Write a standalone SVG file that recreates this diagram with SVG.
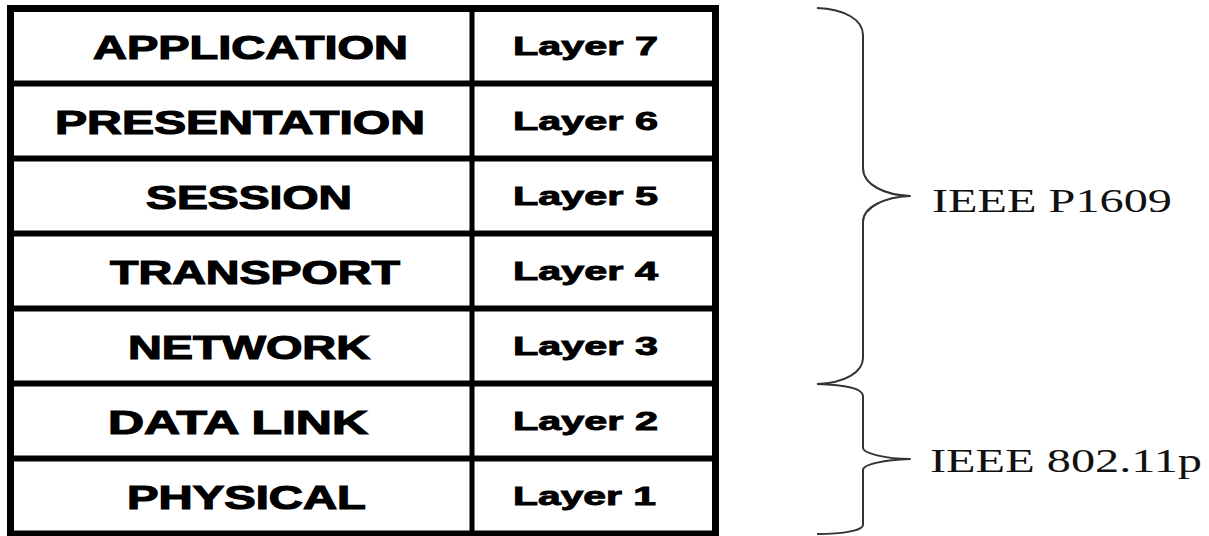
<svg xmlns="http://www.w3.org/2000/svg" width="1209" height="536" viewBox="0 0 1209 536">
<style>
.grid{stroke:#000;fill:none}
.name{font-family:"Liberation Sans",Arial,sans-serif;font-weight:bold;font-size:34px;fill:#000;stroke:#000;stroke-width:1.2}
.layer{font-family:"Liberation Sans",Arial,sans-serif;font-weight:bold;font-size:25px;fill:#000;stroke:#000;stroke-width:0.9}
.std{font-family:"Liberation Serif","Times New Roman",serif;font-size:33px;fill:#111}
.brace{stroke:#333;stroke-width:2;fill:none;stroke-linejoin:round}
</style>
<rect width="1209" height="536" fill="#fff"/>
<g id="table">
<rect class="grid" x="10.5" y="8.5" width="705" height="525.5" stroke-width="7"/>
<line class="grid" x1="472" y1="8" x2="472" y2="534" stroke-width="5"/>
<line class="grid" x1="10" y1="83.5" x2="716" y2="83.5" stroke-width="6"/>
<line class="grid" x1="10" y1="158.5" x2="716" y2="158.5" stroke-width="6"/>
<line class="grid" x1="10" y1="233.5" x2="716" y2="233.5" stroke-width="6"/>
<line class="grid" x1="10" y1="308.5" x2="716" y2="308.5" stroke-width="6"/>
<line class="grid" x1="10" y1="383.5" x2="716" y2="383.5" stroke-width="6"/>
<line class="grid" x1="10" y1="458.5" x2="716" y2="458.5" stroke-width="6"/>
</g>
<g id="layer7"><text class="name" x="93" y="59" textLength="315" lengthAdjust="spacingAndGlyphs">APPLICATION</text><text class="layer" x="513" y="55" textLength="145" lengthAdjust="spacingAndGlyphs">Layer 7</text></g>
<g id="layer6"><text class="name" x="55" y="134" textLength="370" lengthAdjust="spacingAndGlyphs">PRESENTATION</text><text class="layer" x="513" y="130" textLength="145" lengthAdjust="spacingAndGlyphs">Layer 6</text></g>
<g id="layer5"><text class="name" x="146" y="209" textLength="206" lengthAdjust="spacingAndGlyphs">SESSION</text><text class="layer" x="513" y="205" textLength="145" lengthAdjust="spacingAndGlyphs">Layer 5</text></g>
<g id="layer4"><text class="name" x="110" y="284" textLength="290" lengthAdjust="spacingAndGlyphs">TRANSPORT</text><text class="layer" x="513" y="280" textLength="145" lengthAdjust="spacingAndGlyphs">Layer 4</text></g>
<g id="layer3"><text class="name" x="128" y="359" textLength="242" lengthAdjust="spacingAndGlyphs">NETWORK</text><text class="layer" x="513" y="355" textLength="145" lengthAdjust="spacingAndGlyphs">Layer 3</text></g>
<g id="layer2"><text class="name" x="108" y="434" textLength="260" lengthAdjust="spacingAndGlyphs">DATA LINK</text><text class="layer" x="513" y="430" textLength="145" lengthAdjust="spacingAndGlyphs">Layer 2</text></g>
<g id="layer1"><text class="name" x="127" y="509" textLength="239" lengthAdjust="spacingAndGlyphs">PHYSICAL</text><text class="layer" x="513" y="505" textLength="143" lengthAdjust="spacingAndGlyphs">Layer 1</text></g>
<g id="connectors">
<path class="brace" d="M817,8 C845,9 863,20 863,35 L863,168 C863,185 885,195 910,196 C885,197 863,207 863,222 L863,358 C863,372 845,383 817,384"/>
<path class="brace" d="M817,384 C845,385 863,388 863,396 L863,448 C863,453 885,459 910,459 C885,460 863,464 863,470 L863,525 C863,530 845,534 817,534"/>
</g>
<g id="ieee-p1609"><text class="std" x="932" y="212" textLength="240" lengthAdjust="spacingAndGlyphs">IEEE P1609</text></g>
<g id="ieee-80211p"><text class="std" x="930" y="472" textLength="272" lengthAdjust="spacingAndGlyphs">IEEE 802.11p</text></g>
</svg>
